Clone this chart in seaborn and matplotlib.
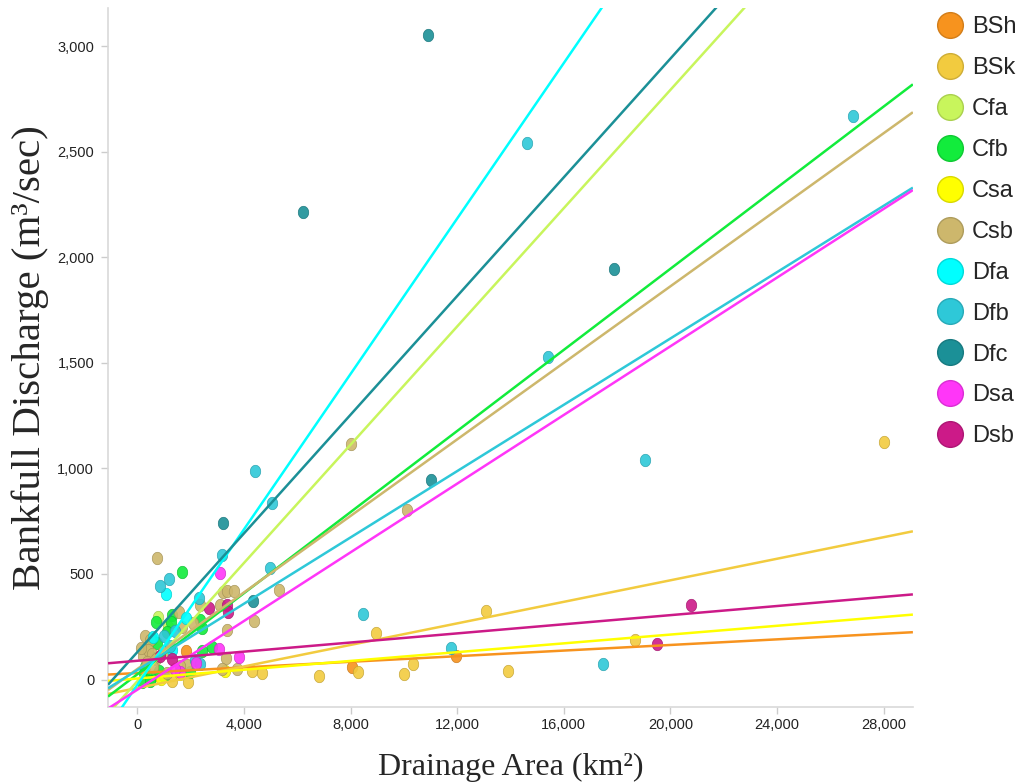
import numpy as np
import pandas as pd
import seaborn as sns
import matplotlib
matplotlib.use("Agg")
import matplotlib.pyplot as plt
from matplotlib.lines import Line2D
from matplotlib.path import Path
from matplotlib.ticker import FuncFormatter
import matplotlib.colors as mcolors

# ---------------- data ----------------
classes = ["BSh", "BSk", "Cfa", "Cfb", "Csa", "Csb", "Dfa", "Dfb", "Dfc", "Dsa", "Dsb"]
colors = ["#f7931e", "#f2cb3f", "#c8f55c", "#12ec3c", "#ffff00", "#cdb76c",
          "#00ffff", "#2ec8d8", "#1b9097", "#ff36f8", "#cc1a88"]

# regression lines (slope in m3/s per km2, intercept in m3/s)
line_slopes = [0.00664, 0.0255, 0.140, 0.096, 0.0104, 0.0906, 0.184, 0.0785, 0.1405, 0.0813, 0.0108]
line_intercepts = [31, -40, -8, 25, 5, 50, -25, 45, 130, -48, 89]

bsh_area = [1820, 8050, 11950]
bsh_q = [133, 58, 110]

bsk_area = [6820, 8270, 8970, 10010, 10330, 13090, 13920, 18670, 28000, 4320, 4670, 1300, 1890, 700]
bsk_q = [17, 38, 221, 28, 74, 324, 39, 188, 1125, 39, 32, -5, -10, 20]

cfa_area = [775, 400, 1150]
cfa_q = [295, 150, 250]

cfb_area = [1675, 1300, 712, 1274, 2424, 1112, 550, 738, 2799, 2424, 1960, 2361, 250, 500, 800, 175, 487, 300, 1000, 650]
cfb_q = [507, 307, 272, 272, 245, 224, 193, 172, 156, 137, 35, 280, 30, 10, 40, -13, -9, 60, 15, 100]

csa_area = [1590, 900, 3300]
csa_q = [27, 5, 40]

csb_area = [738, 8000, 10130, 3200, 3380, 3610, 5320, 2360, 3090, 4360, 3360, 1550, 2090, 1675,
            300, 487, 3320, 1860, 1610, 225, 400, 550, 700, 350, 600, 950, 3170, 3740, 1100, 150]
csb_q = [575, 1117, 801, 414, 420, 420, 425, 351, 351, 275, 235, 319, 267, 251,
         204, 185, 101, 70, 66, 110, 140, 120, 95, 85, 60, 130, 51, 51, 30, 150]

dfa_area = [1060, 1820, 600, 1300]
dfa_q = [406, 292, 200, 140]

dfb_area = [4400, 5060, 3190, 14620, 26870, 15400, 19030, 8450, 11780, 17480, 837, 1199, 2298,
            4985, 987, 2174, 2361, 1237, 1424]
dfb_q = [987, 835, 588, 2540, 2668, 1526, 1039, 310, 148, 76, 445, 474, 387,
         527, 208, 93, 74, 161, 232]

dfc_area = [10900, 6220, 17880, 11000, 3210, 4350]
dfc_q = [3052, 2213, 1943, 943, 741, 372]

dsa_area = [3086, 3049, 3797, 2211, 1612, 1424]
dsa_q = [506, 145, 109, 77, 35, 51]

dsb_area = [2699, 3361, 3386, 20760, 19490, 862, 1300]
dsb_q = [338, 351, 319, 355, 169, 110, 95]

areas = [bsh_area, bsk_area, cfa_area, cfb_area, csa_area, csb_area,
         dfa_area, dfb_area, dfc_area, dsa_area, dsb_area]
qs = [bsh_q, bsk_q, cfa_q, cfb_q, csa_q, csb_q, dfa_q, dfb_q, dfc_q, dsa_q, dsb_q]

x_ticks = [0, 4000, 8000, 12000, 16000, 20000, 24000, 28000]
y_ticks = [0, 500, 1000, 1500, 2000, 2500, 3000]
XLIM = (-1100, 29100)
YLIM = (-130, 3180)

df = pd.DataFrame({
    "Climate": [c for c, a in zip(classes, areas) for _ in a],
    "Area": [v for a in areas for v in a],
    "Q": [v for q in qs for v in q],
})

# ---------------- style ----------------
sns.set_theme(style="white")
plt.rcParams["font.family"] = ["Liberation Sans", "DejaVu Sans"]

fig = plt.figure(figsize=(10.24, 7.84), dpi=100)
ax = fig.add_axes([0.1055, 0.0982, 0.786, 0.8916])

def darker(c, f=0.8):
    r, g, b = mcolors.to_rgb(c)
    return (r * f, g * f, b * f)

# slightly oval marker (as in reference)
t = np.linspace(0, 2 * np.pi, 40)
ellipse = Path(np.column_stack([0.42 * np.cos(t), 0.5 * np.sin(t)]), closed=True)

palette = dict(zip(classes, colors))
for c in classes:
    sub = df[df["Climate"] == c]
    sns.scatterplot(data=sub, x="Area", y="Q", ax=ax, color=palette[c],
                    marker=ellipse, s=80, edgecolor=darker(palette[c]),
                    linewidth=0.5, alpha=0.9, legend=False, zorder=2)

xs = np.array(XLIM, dtype=float)
for c, m, b in zip(classes, line_slopes, line_intercepts):
    ax.plot(xs, m * xs + b, color=palette[c], lw=1.8, zorder=3, solid_capstyle="butt")

ax.set_xlim(*XLIM)
ax.set_ylim(*YLIM)
ax.set_xticks(x_ticks)
ax.set_yticks(y_ticks)
fmt = FuncFormatter(lambda v, p: f"{int(v):,}")
ax.xaxis.set_major_formatter(fmt)
ax.yaxis.set_major_formatter(fmt)

for s in ["top", "right"]:
    ax.spines[s].set_visible(False)
for s in ["left", "bottom"]:
    ax.spines[s].set_color("#d9d9d9")
    ax.spines[s].set_linewidth(1.2)
ax.tick_params(axis="both", which="major", length=5, width=1, color="#cccccc",
               labelcolor="#222222", labelsize=10.5, direction="out")
ax.tick_params(axis="x", pad=3)
ax.tick_params(axis="y", pad=5)
ax.tick_params(left=True, bottom=True)

ax.set_xlabel("Drainage Area (km²)", fontsize=23, family="Liberation Serif", labelpad=15)
ax.set_ylabel("Bankfull Discharge (m³/sec)", fontsize=29.5, family="Liberation Serif", labelpad=6)

handles = [Line2D([], [], ls="", marker="o", markersize=18.5, markerfacecolor=col,
                  markeredgecolor=darker(col, 0.85), markeredgewidth=1.0)
           for col in colors]
fig.legend(handles, classes, loc="upper left", bbox_to_anchor=(0.916, 0.979),
           frameon=False, fontsize=17, handlelength=1.0, handletextpad=0.45,
           labelspacing=0.80, borderpad=0, borderaxespad=0)

fig.savefig("out.png", dpi=100, facecolor="white")
